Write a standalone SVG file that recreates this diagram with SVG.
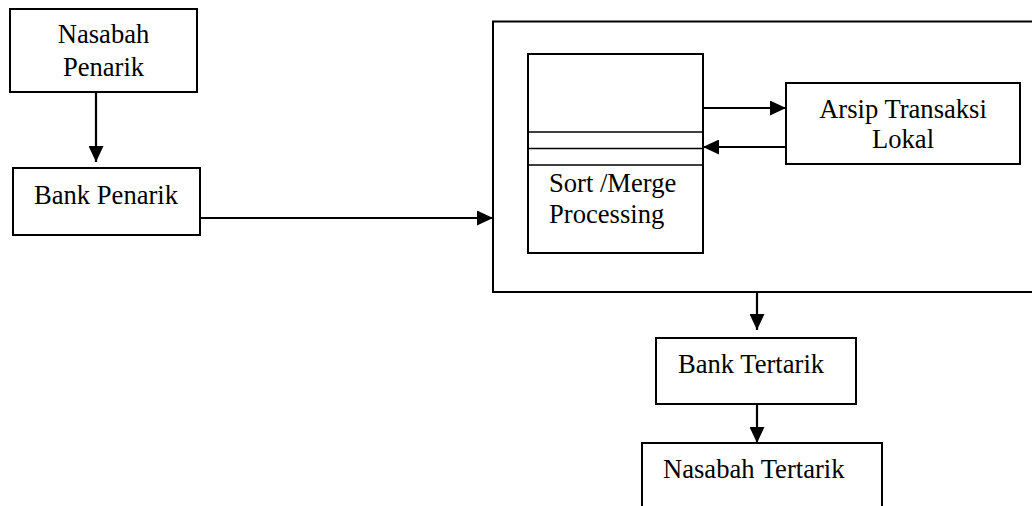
<svg xmlns="http://www.w3.org/2000/svg" width="1032" height="506" viewBox="0 0 1032 506">
  <style>
    .box { fill: #ffffff; stroke: #000000; stroke-width: 2; }
    .div { fill: none; stroke: #000000; stroke-width: 1.6; }
    .edge { fill: none; stroke: #000000; stroke-width: 2.2; }
    .lbl { font-family: "Liberation Serif", "Times New Roman", serif; font-size: 26.6px; fill: #000000; }
    .mid { text-anchor: middle; }
  </style>
  <defs>
    <marker id="arrow" viewBox="0 0 16 15" refX="16" refY="7.5" markerWidth="16" markerHeight="15" markerUnits="userSpaceOnUse" orient="auto">
      <path d="M0,0 L16,7.5 L0,15 Z" fill="#000000"/>
    </marker>
  </defs>
  <rect width="1032" height="506" fill="#ffffff"/>

  <!-- clearing system container, open past the right edge -->
  <g id="clearing-house">
    <rect class="box" x="493" y="21.5" width="600" height="270.5"/>
  </g>

  <g id="nasabah-penarik">
    <rect class="box" x="10" y="9" width="187" height="83"/>
    <text class="lbl mid" x="103.5" y="43">Nasabah</text>
    <text class="lbl mid" x="103.5" y="76">Penarik</text>
  </g>

  <g id="bank-penarik">
    <rect class="box" x="13" y="168" width="187" height="67"/>
    <text class="lbl" x="34" y="204">Bank Penarik</text>
  </g>

  <g id="sort-merge">
    <rect class="box" x="528" y="54" width="175" height="199"/>
    <line class="div" x1="528" y1="132" x2="703" y2="132"/>
    <line class="div" x1="528" y1="148.5" x2="703" y2="148.5"/>
    <line class="div" x1="528" y1="165" x2="703" y2="165"/>
    <text class="lbl" x="549" y="192">Sort /Merge</text>
    <text class="lbl" x="549" y="223">Processing</text>
  </g>

  <g id="arsip-transaksi">
    <rect class="box" x="786" y="83" width="234" height="81"/>
    <text class="lbl mid" x="903" y="118">Arsip Transaksi</text>
    <text class="lbl mid" x="903" y="148">Lokal</text>
  </g>

  <g id="bank-tertarik">
    <rect class="box" x="656" y="338" width="200" height="66"/>
    <text class="lbl" x="678" y="373">Bank Tertarik</text>
  </g>

  <g id="nasabah-tertarik">
    <rect class="box" x="642" y="443" width="240" height="80"/>
    <text class="lbl" x="663" y="478">Nasabah Tertarik</text>
  </g>

  <g id="connectors">
    <line class="edge" x1="96" y1="92" x2="96" y2="162" marker-end="url(#arrow)"/>
    <line class="edge" x1="200" y1="218" x2="493" y2="218" marker-end="url(#arrow)"/>
    <line class="edge" x1="703" y1="108" x2="786" y2="108" marker-end="url(#arrow)"/>
    <line class="edge" x1="786" y1="147" x2="703" y2="147" marker-end="url(#arrow)"/>
    <line class="edge" x1="757" y1="292" x2="757" y2="330" marker-end="url(#arrow)"/>
    <line class="edge" x1="757" y1="404" x2="757" y2="443" marker-end="url(#arrow)"/>
  </g>
</svg>
